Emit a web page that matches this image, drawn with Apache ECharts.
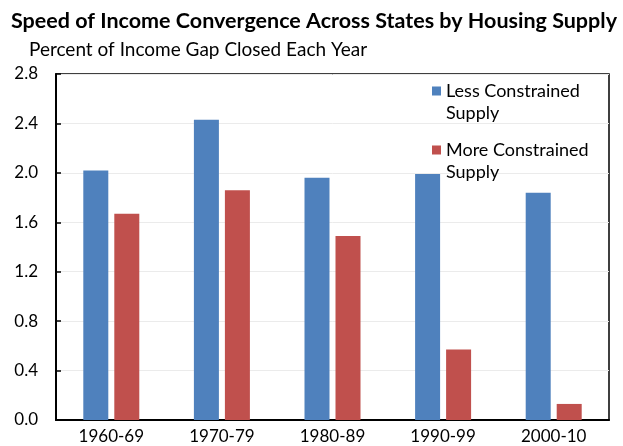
<!DOCTYPE html>
<html>
<head>
<meta charset="utf-8">
<script src="https://cdn.jsdelivr.net/npm/echarts@6/dist/echarts.min.js"></script>
<style>
  html, body { margin: 0; padding: 0; background: #fff; }
  #chart { width: 623px; height: 446px; }
</style>
</head>
<body>
<div id="chart"></div>
<script>
  // data
  var categories = ["1960-69", "1970-79", "1980-89", "1990-99", "2000-10"];
  var lessConstrained = [2.02, 2.43, 1.96, 1.99, 1.84];
  var moreConstrained = [1.67, 1.86, 1.49, 0.57, 0.13];
  var seriesNames = ["Less Constrained\nSupply", "More Constrained\nSupply"];

  var font = "Lato, 'Open Sans', sans-serif";

  // legend square sits next to the first text line: the tiny corner marks stretch the box
  var legendIcon = "path://M0,0H0.05V0.05H0Z M0,6.5H9V15.5H0Z M8.95,43.95H9V44H8.95Z";

  var myChart = echarts.init(document.getElementById("chart"));
  var option = {
    animation: false,
    textStyle: { fontFamily: font },
    title: [
      {
        text: "Speed of Income Convergence Across States by Housing Supply",
        left: 6,
        top: 5,
        textStyle: { fontFamily: font, fontSize: 21.5, fontWeight: "bold", color: "#000" }
      },
      {
        text: "Percent of Income Gap Closed Each Year",
        left: 24,
        top: 35,
        textStyle: { fontFamily: font, fontSize: 19, fontWeight: "normal", color: "#000" }
      }
    ],
    legend: {
      orient: "vertical",
      left: 432,
      top: 80,
      padding: 0,
      itemWidth: 9,
      itemHeight: 44,
      itemGap: 15,
      icon: legendIcon,
      data: seriesNames,
      textStyle: {
        fontFamily: font,
        fontSize: 18,
        color: "#000",
        lineHeight: 22
      }
    },
    grid: {
      left: 56,
      right: 14,
      top: 74,
      bottom: 26,
      show: true,
      borderColor: "#000",
      borderWidth: 1.5
    },
    xAxis: {
      type: "category",
      data: categories,
      axisLine: { lineStyle: { color: "#000", width: 2 } },
      axisTick: { inside: true, length: 5, lineStyle: { color: "#000", width: 1.5 } },
      axisLabel: { color: "#000", fontSize: 17, margin: 8 }
    },
    yAxis: {
      type: "value",
      min: 0,
      max: 2.8,
      interval: 0.4,
      axisLine: { show: true, lineStyle: { color: "#000", width: 2 } },
      axisTick: { show: true, inside: true, length: 5, lineStyle: { color: "#000", width: 1.5 } },
      axisLabel: {
        color: "#000",
        fontSize: 17,
        margin: 18,
        formatter: function (v) { return v.toFixed(1); }
      },
      splitLine: { show: true, lineStyle: { color: "#ebebeb", width: 1 } }
    },
    series: [
      {
        name: seriesNames[0],
        type: "bar",
        data: lessConstrained,
        barWidth: 25,
        barGap: "24%",
        itemStyle: { color: "#4F81BD" }
      },
      {
        name: seriesNames[1],
        type: "bar",
        data: moreConstrained,
        barWidth: 25,
        barGap: "24%",
        itemStyle: { color: "#C0504D" }
      }
    ]
  };
  myChart.setOption(option);
</script>
</body>
</html>
